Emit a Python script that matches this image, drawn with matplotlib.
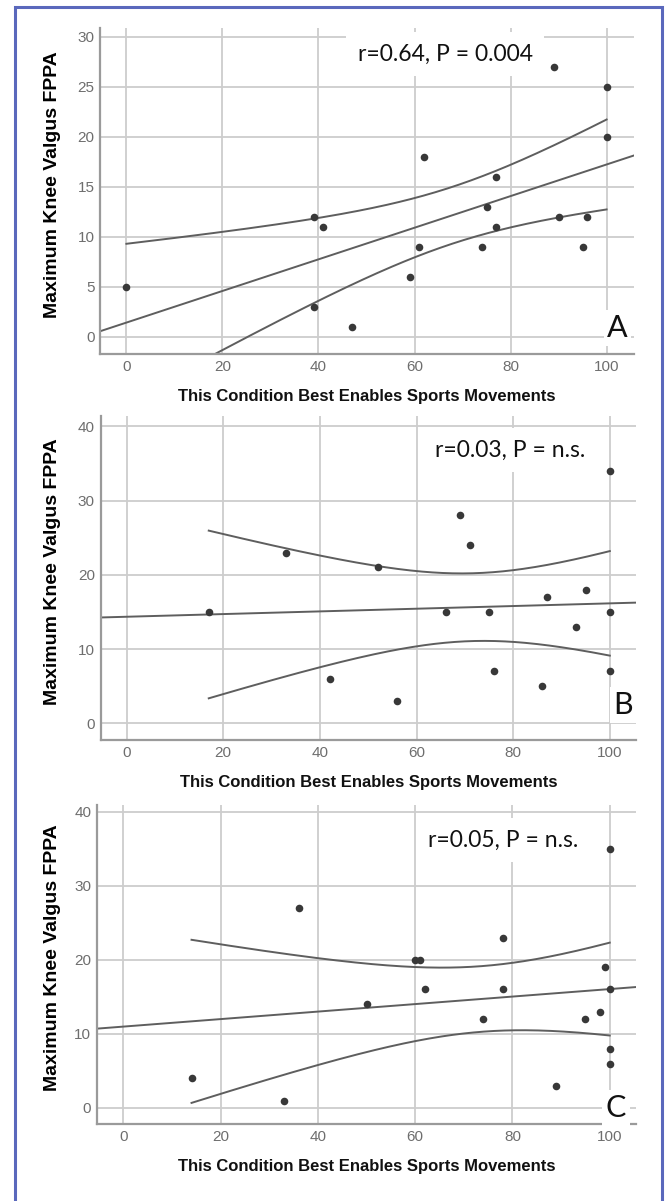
import numpy as np
import matplotlib.pyplot as plt
from matplotlib.patches import Rectangle

# Panel A
a_x = [0, 39, 41, 39, 47, 59, 61, 62, 74, 75, 77, 77, 89, 90, 95, 96, 100, 100]
a_y = [5, 12, 11, 3, 1, 6, 9, 18, 9, 13, 16, 11, 27, 12, 9, 12, 25, 20]
# Panel B
b_x = [17, 33, 42, 52, 56, 66, 69, 71, 75, 76, 86, 87, 93, 95, 100, 100, 100]
b_y = [15, 23, 6, 21, 3, 15, 28, 24, 15, 7, 5, 17, 13, 18, 34, 15, 7]
# Panel C
c_x = [14, 33, 36, 50, 60, 61, 62, 74, 78, 78, 89, 95, 98, 99, 100, 100, 100, 100]
c_y = [4, 1, 27, 14, 20, 20, 16, 12, 23, 16, 3, 12, 13, 19, 35, 16, 8, 6]

stats_text = ["r=0.64, P = 0.004", "r=0.03, P = n.s.", "r=0.05, P = n.s."]
letters = ["A", "B", "C"]
x_ticks = [0, 20, 40, 60, 80, 100]
y_ticks_a = [0, 5, 10, 15, 20, 25, 30]
y_ticks_bc = [0, 10, 20, 30, 40]

xlabel = "This Condition Best Enables Sports Movements"
ylabel = "Maximum Knee Valgus FPPA"

# t critical values (95%, two sided) by degrees of freedom
T95 = {15: 2.131, 16: 2.120}

W, H = 665, 1201
fig = plt.figure(figsize=(W / 100, H / 100), dpi=100)


def px_axes(left, top, right, bottom):
    return fig.add_axes([left / W, 1 - bottom / H, (right - left) / W, (bottom - top) / H])


def draw_panel(ax, xs, ys, yticks, xlim, ylim, txt, txt_pos, letter, let_pos):
    xs = np.array(xs, float)
    ys = np.array(ys, float)
    ax.set_xlim(*xlim)
    ax.set_ylim(*ylim)
    ax.set_xticks(x_ticks)
    ax.set_yticks(yticks)
    ax.grid(True, color="#cdcdcd", lw=1.3, zorder=0)
    ax.set_axisbelow(True)
    for s in ["top", "right"]:
        ax.spines[s].set_visible(False)
    for s in ["left", "bottom"]:
        ax.spines[s].set_color("#9a9a9a")
        ax.spines[s].set_linewidth(1.6)
    ax.tick_params(length=0, pad=4, labelcolor="#6e6e6e", labelsize=11)
    for lab in ax.get_xticklabels() + ax.get_yticklabels():
        lab.set_family(["Liberation Sans Narrow", "Liberation Sans"])

    # fit line and 95% CI of the mean
    n = len(xs)
    slope, inter = np.polyfit(xs, ys, 1)
    resid = ys - (slope * xs + inter)
    s = np.sqrt(np.sum(resid ** 2) / (n - 2))
    sxx = np.sum((xs - xs.mean()) ** 2)
    xl = np.linspace(xlim[0], xlim[1], 200)
    ax.plot(xl, slope * xl + inter, color="#5e5e5e", lw=1.4, zorder=2)
    xc = np.linspace(xs.min(), xs.max(), 200)
    se = s * np.sqrt(1 / n + (xc - xs.mean()) ** 2 / sxx)
    t = T95[n - 2]
    yc = slope * xc + inter
    ax.plot(xc, yc + t * se, color="#5e5e5e", lw=1.4, zorder=2)
    ax.plot(xc, yc - t * se, color="#5e5e5e", lw=1.4, zorder=2)

    ax.scatter(xs, ys, s=30, color="#383838", zorder=3, linewidths=0)

    ax.text(txt_pos[0], txt_pos[1], txt, transform=ax.transAxes, ha="center", va="center",
            fontsize=16.5, family="Lato", color="#111111", zorder=5,
            bbox=dict(boxstyle="square,pad=0.5", facecolor="white", edgecolor="none"))
    ax.text(let_pos[0], let_pos[1], letter, transform=ax.transAxes, ha="center", va="center",
            fontsize=22, family="Lato", color="#111111", zorder=5,
            bbox=dict(boxstyle="square,pad=0.12", facecolor="white", edgecolor="none"))

    ax.set_xlabel(xlabel, fontsize=12, fontweight="bold", family="Liberation Sans",
                  color="#111111", labelpad=11)
    ax.set_ylabel(ylabel, fontsize=14, fontweight="bold", family="Liberation Sans",
                  color="#000000")


ax_a = px_axes(100, 28, 633.5, 354)
draw_panel(ax_a, a_x, a_y, y_ticks_a, (-5.5, 105.6), (-1.7, 30.9),
           stats_text[0], (0.647, 0.920), letters[0], (0.970, 0.080))
ax_a.yaxis.set_label_coords(-0.073, 0.52)

ax_b = px_axes(100.5, 416, 636.4, 740)
draw_panel(ax_b, b_x, b_y, y_ticks_bc, (-5.4, 105.5), (-2.25, 41.4),
           stats_text[1], (0.765, 0.895), letters[1], (0.976, 0.108))
ax_b.yaxis.set_label_coords(-0.073, 0.52)

ax_c = px_axes(96.7, 805, 636, 1124)
draw_panel(ax_c, c_x, c_y, y_ticks_bc, (-5.5, 105.4), (-2.16, 40.9),
           stats_text[2], (0.753, 0.890), letters[2], (0.963, 0.050))
ax_c.yaxis.set_label_coords(-0.066, 0.52)

# blue frame around the figure
fig.add_artist(Rectangle((15 / W, -0.01), (662 - 15) / W, 1.01 - 7 / H,
                         transform=fig.transFigure, fill=False,
                         edgecolor="#5a68bc", lw=2.2))

fig.savefig("out.png", dpi=100)
